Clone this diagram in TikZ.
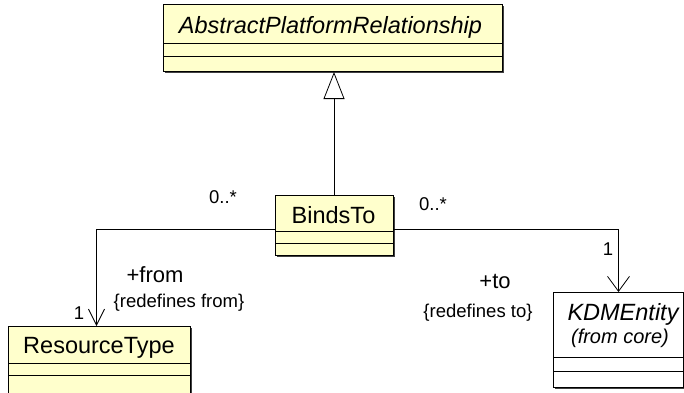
\documentclass[tikz,border=0pt]{standalone}
\usepackage{fontspec}
\setmainfont{Liberation Sans}
\usetikzlibrary{arrows.meta}
\definecolor{umlfill}{HTML}{FFFFCC}
\begin{document}
\begin{tikzpicture}[x=1pt,y=-1pt,
  cls/.style={draw=black, fill=umlfill, line width=1pt, rectangle, inner sep=0pt, anchor=north west},
  shadow/.style={fill=black!75},
  nm/.style={font=\fontsize{23.5}{25}\selectfont, inner sep=0pt, anchor=base},
  role/.style={font=\fontsize{22}{24}\selectfont, inner sep=0pt, anchor=base},
  lbl/.style={font=\fontsize{18.5}{20}\selectfont, inner sep=0pt, anchor=base},
  conn/.style={draw=black, line width=0.8pt},
  sep/.style={draw=black, line width=0.9pt}]
\useasboundingbox (0,0) rectangle (684,392);
% shadows
\fill[shadow] (164.5,5.5) rectangle (503.5,72.5);
\fill[shadow] (276.5,196.5) rectangle (394.5,256.5);
\fill[shadow] (9.5,327.5) rectangle (191.5,402);
\fill[shadow] (554.5,293.5) rectangle (685,388.5);
% boxes
\node[cls, minimum width=339pt, minimum height=67pt] (apr) at (163,4) {};
\node[cls, minimum width=118pt, minimum height=60pt] (bt) at (275,195) {};
\node[cls, minimum width=182pt, minimum height=74pt] (rt) at (8,326) {};
\node[cls, fill=white, minimum width=130pt, minimum height=95pt] (kdm) at (553,292) {};
% compartments
\draw[sep] (apr.west |- 0,43) -- (apr.east |- 0,43);
\draw[sep] (apr.west |- 0,56) -- (apr.east |- 0,56);
\draw[sep] (bt.west |- 0,231) -- (bt.east |- 0,231);
\draw[sep] (bt.west |- 0,243) -- (bt.east |- 0,243);
\draw[sep] (rt.west |- 0,363) -- (rt.east |- 0,363);
\draw[sep] (rt.west |- 0,375) -- (rt.east |- 0,375);
\draw[sep] (kdm.west |- 0,357) -- (kdm.east |- 0,357);
\draw[sep] (kdm.west |- 0,371) -- (kdm.east |- 0,371);
% names
\node[nm, font=\fontsize{23.5}{25}\selectfont\itshape] (aprname) at (330.5,33) {AbstractPlatformRelationship};
\node[nm] (btname) at (333.5,223) {BindsTo};
\node[nm] (rtname) at (99,353) {ResourceType};
\node[nm, font=\fontsize{23.5}{25}\selectfont\itshape] (kdmname) at (623,320) {KDMEntity};
\node[lbl, font=\fontsize{20}{22}\selectfont\itshape] (kdmpkg) at (620,343) {(from core)};
% connectors
\draw[conn, -{Triangle[open, length=27pt, width=21pt, line width=0.8pt]}] (bt.north -| 334,0) -- (apr.south -| 334,0);
\draw[conn, -{Straight Barb[length=16pt, width=16pt, line width=0.8pt]}] ([yshift=-4pt]bt.west) -| ([xshift=-3pt]rt.north);
\draw[conn, -{Straight Barb[length=15pt, width=22pt, line width=0.8pt]}] ([yshift=-4pt]bt.east) -| (kdm.north);
% labels
\node[lbl] (m1) at (223,203) {0..*};
\node[lbl] (m2) at (433,210) {0..*};
\node[lbl] (m3) at (79,319) {1};
\node[lbl] (m4) at (608,255) {1};
\node[role] (from) at (155,282) {+from};
\node[lbl] (fromc) at (179,307) {\{redefines from\}};
\node[role] (to) at (495,288) {+to};
\node[lbl] (toc) at (478,317) {\{redefines to\}};
\end{tikzpicture}
\end{document}
